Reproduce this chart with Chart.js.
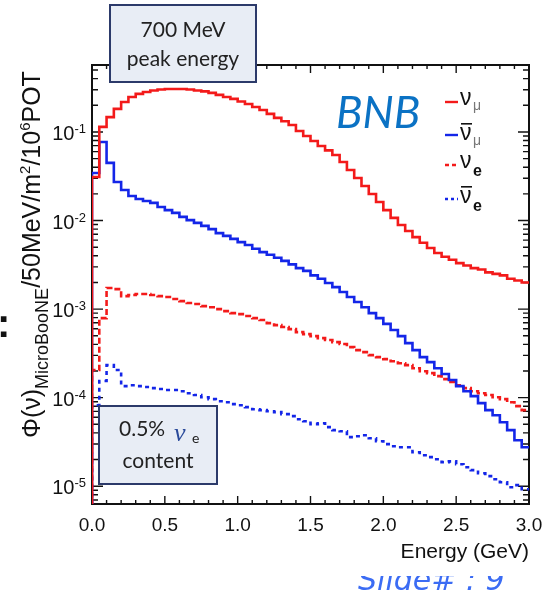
<!DOCTYPE html>
<html><head><meta charset="utf-8">
<script src="https://cdn.jsdelivr.net/npm/chart.js@4.4.0/dist/chart.umd.min.js"></script>
<style>html,body{margin:0;padding:0;background:#fff;overflow:hidden}canvas{display:block}</style>
</head><body>
<canvas id="c" width="551" height="597"></canvas>
<script>
// bin lower edges in GeV (50 MeV bins)
const binLowEdge=[0,0.05,0.1,0.15,0.2,0.25,0.3,0.35,0.4,0.45,0.5,0.55,0.6,0.65,0.7,0.75,0.8,0.85,0.9,0.95,
 1.0,1.05,1.1,1.15,1.2,1.25,1.3,1.35,1.4,1.45,1.5,1.55,1.6,1.65,1.7,1.75,1.8,1.85,1.9,1.95,
 2.0,2.05,2.1,2.15,2.2,2.25,2.3,2.35,2.4,2.45,2.5,2.55,2.6,2.65,2.7,2.75,2.8,2.85,2.9,2.95];
const energyMax=3.0;
const numu=[0.031,0.114,0.147,0.182,0.218,0.248,0.269,0.283,0.294,0.302,
 0.306,0.306,0.306,0.302,0.294,0.287,0.276,0.262,0.248,0.236,
 0.221,0.207,0.191,0.177,0.160,0.144,0.132,0.120,0.1025,0.090,
 0.079,0.0695,0.062,0.055,0.0458,0.0372,0.0302,0.0245,0.0199,0.0162,
 0.0131,0.0107,0.0089,0.0076,0.0065,0.0056,0.0049,0.0043,0.0039,0.0036,
 0.0033,0.0031,0.0029,0.0028,0.0026,0.0025,0.0024,0.0022,0.0021,0.0020];
const numubar=[0.0344,0.0771,0.0447,0.0272,0.0221,0.0189,0.0175,0.0166,0.0158,0.0142,
 0.0131,0.0122,0.0110,0.0101,0.0094,0.0087,0.0080,0.0072,0.0067,0.0062,
 0.0057,0.0053,0.0048,0.0044,0.0041,0.0038,0.0035,0.0032,0.0029,0.0027,
 0.0024,0.0022,0.00197,0.00177,0.00156,0.00137,0.00120,0.00105,0.00090,0.00079,
 0.00068,0.00058,0.000495,0.000413,0.000344,0.000287,0.000252,0.000215,0.000185,0.000158,
 0.000135,0.000118,0.000104,0.0000867,0.0000723,0.0000634,0.0000528,0.0000430,0.0000331,0.0000276];
const nue=[0.000205,0.00079,0.00173,0.00168,0.00140,0.00144,0.00148,0.00148,0.00144,0.00140,
 0.00137,0.00130,0.00123,0.00117,0.00114,0.00108,0.00105,0.00100,0.000949,0.000901,
 0.000878,0.000834,0.00079,0.000752,0.000695,0.000659,0.000627,0.000594,0.00055,0.000522,
 0.000495,0.00047,0.000447,0.000424,0.000403,0.000372,0.000344,0.000327,0.000302,0.000287,
 0.000272,0.000258,0.000245,0.000233,0.000215,0.000199,0.000189,0.000175,0.000162,0.00015,
 0.000138,0.000128,0.000118,0.000112,0.000107,0.000101,0.0000962,0.0000889,0.0000802,0.0000723];
const nuebar=[0.0000822,0.000154,0.000233,0.000205,0.000135,0.000138,0.000135,0.000132,0.000128,0.000125,
 0.000122,0.000122,0.000118,0.000112,0.000107,0.000101,0.0000962,0.0000912,0.0000889,0.0000845,
 0.0000822,0.0000782,0.0000741,0.0000723,0.0000703,0.0000686,0.0000652,0.0000618,0.0000571,0.0000542,
 0.0000502,0.0000515,0.0000465,0.000043,0.0000418,0.0000358,0.0000367,0.0000377,0.0000348,0.0000322,
 0.0000299,0.0000283,0.0000276,0.0000276,0.0000242,0.0000224,0.0000213,0.0000202,0.0000187,0.0000191,
 0.0000177,0.0000164,0.0000152,0.000014,0.000013,0.000012,0.0000111,0.00000975,0.0000103,0.00000925];
const xTickLabels=['0.0','0.5','1.0','1.5','2.0','2.5','3.0'];
const yDecades=[1e-5,1e-4,1e-3,1e-2,1e-1];
const yExponents=['-5','-4','-3','-2','-1'];
const yMin=6.3e-6, yMax=0.57;
const seriesNames=['νμ','ν̄μ','νe','ν̄e'];

const RED='#f31a1a', BLUE='#1426e8';
const yFloor=1e-9; // below the frame, so the first bin rises from the bottom edge
function histPoints(vals){
  const pts=[{x:binLowEdge[0],y:yFloor}];
  vals.forEach((v,i)=>pts.push({x:binLowEdge[i],y:v}));
  pts.push({x:energyMax,y:vals[vals.length-1]});
  return pts;
}
function ds(label,vals,color,dash){
  return {label,data:histPoints(vals),borderColor:color,borderWidth:2.6,borderDash:dash,
    stepped:true,pointRadius:0,fill:false,tension:0};
}

function rich(ctx,parts,x,y){
  let cx=x;
  for(const p of parts){
    ctx.font=(p.st||'')+' '+p.s+'px '+(p.f||'"Liberation Sans"');
    ctx.fillStyle=p.c||'#111';
    ctx.fillText(p.t,cx,y+(p.dy||0));
    cx+=ctx.measureText(p.t).width;
  }
  return cx;
}

const decor={id:'decor',
  beforeDatasetsDraw(chart){
    const {ctx,chartArea:a,scales:{x,y}}=chart;
    ctx.save();
    ctx.strokeStyle='#111';ctx.lineWidth=2;
    ctx.strokeRect(a.left,a.top,a.right-a.left,a.bottom-a.top);
    ctx.lineWidth=1.4;ctx.beginPath();
    for(let k=0;k<=30;k++){
      const px=x.getPixelForValue(k/10),L=k%5===0?8:4;
      ctx.moveTo(px,a.bottom);ctx.lineTo(px,a.bottom-L);
      ctx.moveTo(px,a.top);ctx.lineTo(px,a.top+L);
    }
    for(let e=-6;e<=0;e++)for(let m=1;m<=9;m++){
      const v=m*Math.pow(10,e);if(v<y.min||v>y.max)continue;
      const py=y.getPixelForValue(v),L=m===1?11:6;
      ctx.moveTo(a.left,py);ctx.lineTo(a.left+L,py);
      ctx.moveTo(a.right,py);ctx.lineTo(a.right-L,py);
    }
    ctx.stroke();
    ctx.fillStyle='#111';ctx.textBaseline='alphabetic';
    // x tick labels and title
    ctx.textAlign='center';ctx.font='19px "Liberation Sans"';
    xTickLabels.forEach(t=>ctx.fillText(t,x.getPixelForValue(parseFloat(t)),a.bottom+27));
    ctx.textAlign='right';ctx.font='21px "Liberation Sans"';
    ctx.fillText('Energy (GeV)',a.right,a.bottom+54);
    // decade labels 10^n
    yDecades.forEach((d,i)=>{
      const py=y.getPixelForValue(d);
      ctx.font='13px "Liberation Sans"';
      const sw=ctx.measureText(yExponents[i]).width;
      ctx.fillText(yExponents[i],86,py+1);
      ctx.font='20px "Liberation Sans"';
      ctx.fillText('10',86-sw,py+8);
    });
    ctx.restore();
  },
  afterDraw(chart){
    const {ctx}=chart;
    ctx.save();
    ctx.textAlign='left';ctx.textBaseline='alphabetic';
    // y axis title, rotated
    ctx.save();ctx.translate(40,438);ctx.rotate(-Math.PI/2);
    rich(ctx,[{t:'Φ(ν)',s:25},{t:'MicroBooNE',s:18,dy:8},{t:'/50MeV/m',s:25},{t:'2',s:15,dy:-10},
      {t:'/10',s:25},{t:'6',s:15,dy:-10},{t:'POT',s:25}],0,0);
    ctx.restore();
    // legend
    const rows=[
      {c:RED,dash:[],y:102,base:105,bar:false,sub:'μ',subC:'#777',subS:14,subB:'',subDy:5},
      {c:BLUE,dash:[],y:135,base:140,bar:true,sub:'μ',subC:'#777',subS:14,subB:'',subDy:5},
      {c:RED,dash:[4,3],y:165,base:168,bar:false,sub:'e',subC:'#111',subS:16,subB:'bold',subDy:8},
      {c:BLUE,dash:[3,3],y:199,base:203,bar:true,sub:'e',subC:'#111',subS:16,subB:'bold',subDy:8}];
    rows.forEach(r=>{
      ctx.strokeStyle=r.c;ctx.lineWidth=2.4;ctx.setLineDash(r.dash);
      ctx.beginPath();ctx.moveTo(445,r.y);ctx.lineTo(458,r.y);ctx.stroke();
      ctx.setLineDash([]);
      ctx.fillStyle='#111';ctx.font='23px "Liberation Sans"';
      ctx.fillText('ν',460,r.base);
      if(r.bar){ctx.fillRect(461,r.base-17,11,1.6);}
      ctx.font=r.subB+' '+r.subS+'px "Liberation Sans"';ctx.fillStyle=r.subC;
      ctx.fillText(r.sub,473,r.base+r.subDy);
    });
    // BNB
    ctx.fillStyle='#0b72c4';ctx.font='italic 44px Lato';
    ctx.fillText('BNB',336,128);
    // peak energy box
    ctx.fillStyle='#e8edf5';ctx.fillRect(110,5,146,77);
    ctx.strokeStyle='#2c3a6a';ctx.lineWidth=2;ctx.strokeRect(110,5,146,77);
    ctx.fillStyle='#222';ctx.font='21px Lato';ctx.textAlign='center';
    ctx.fillText('700 MeV',183,37);ctx.fillText('peak energy',183,66);
    // nu_e content box
    ctx.fillStyle='#e8edf5';ctx.fillRect(99,406,118,78);
    ctx.strokeStyle='#2c3a6a';ctx.strokeRect(99,406,118,78);
    ctx.fillStyle='#222';ctx.fillText('content',158,468);
    ctx.textAlign='left';
    rich(ctx,[{t:'0.5%',s:21,f:'Lato',c:'#222'}],119,436);
    rich(ctx,[{t:'ν',s:26,st:'italic',f:'"Liberation Serif"',c:'#2a4a9a'}],174,441);
    rich(ctx,[{t:'e',s:14,f:'Lato',c:'#222'}],192,443);
    // slide leftovers
    ctx.fillStyle='#111';ctx.font='bold 40px "Liberation Sans"';ctx.fillText(':',-3,337);
    ctx.save();ctx.beginPath();ctx.rect(300,576,251,21);ctx.clip();
    ctx.fillStyle='#3b6cf4';ctx.font='italic 30px "DejaVu Sans"';ctx.fillText('Slide# : 9',358,590);
    ctx.restore();
    ctx.restore();
  }
};

new Chart(document.getElementById('c'),{
  type:'line',
  data:{datasets:[ds(seriesNames[0],numu,RED,[]),ds(seriesNames[1],numubar,BLUE,[]),
    ds(seriesNames[2],nue,RED,[6,3]),ds(seriesNames[3],nuebar,BLUE,[4,4])]},
  options:{responsive:false,animation:false,devicePixelRatio:1,
    layout:{padding:{left:92,right:22,top:65,bottom:93}},
    plugins:{legend:{display:false},tooltip:{enabled:false}},
    scales:{
      x:{type:'linear',min:0,max:energyMax,display:false},
      y:{type:'logarithmic',min:yMin,max:yMax,display:false}
    }},
  plugins:[decor]
});
</script>
</body></html>
